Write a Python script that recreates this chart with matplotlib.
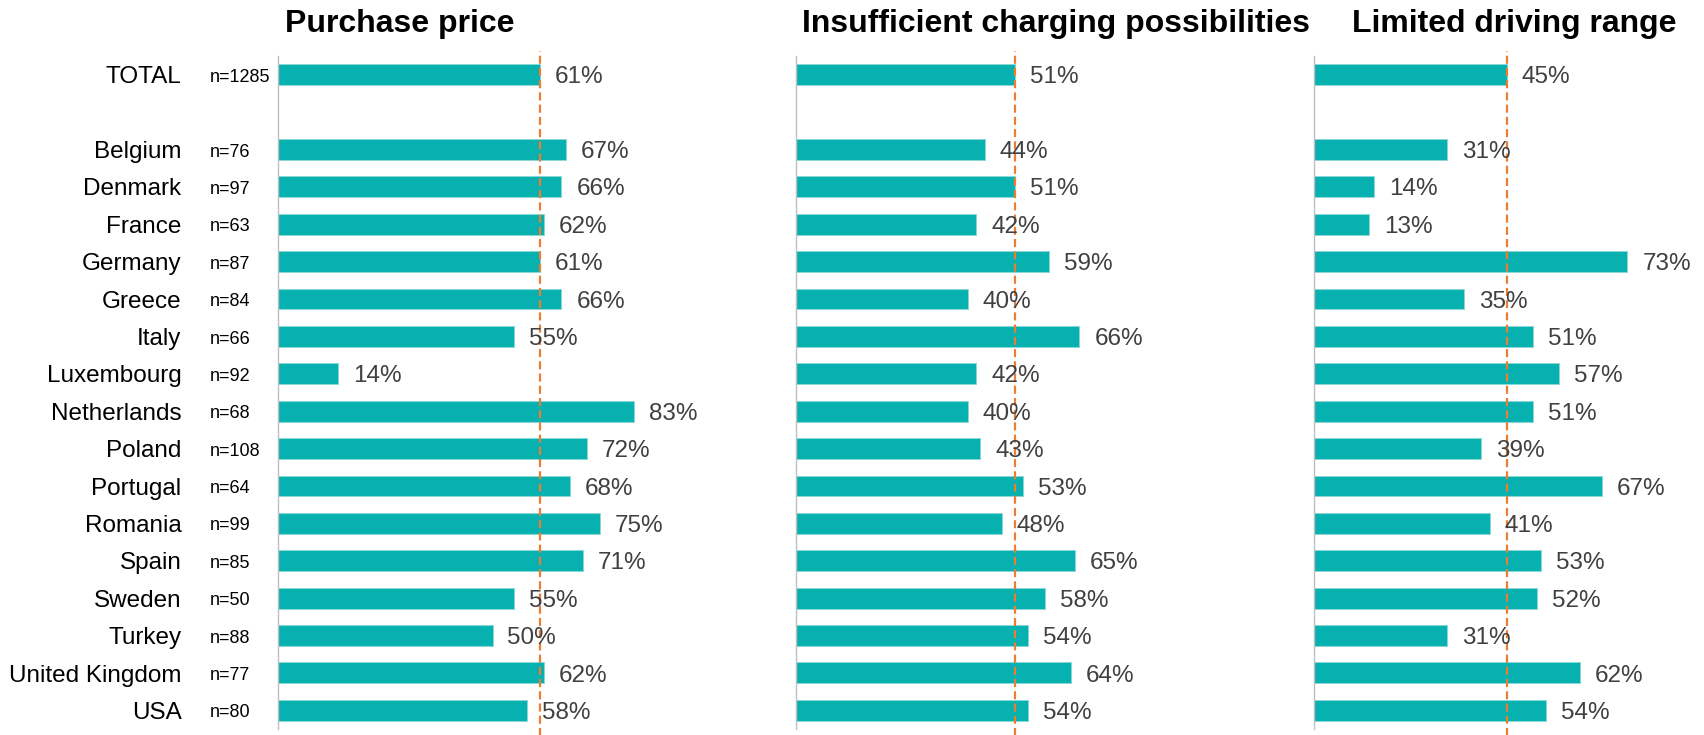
import matplotlib
matplotlib.use("Agg")
import matplotlib.pyplot as plt
from matplotlib.transforms import blended_transform_factory

plt.rcParams['font.family'] = ['Liberation Sans', 'DejaVu Sans']
plt.rcParams['lines.scale_dashes'] = False

categories = ["TOTAL", "Belgium", "Denmark", "France", "Germany", "Greece", "Italy",
              "Luxembourg", "Netherlands", "Poland", "Portugal", "Romania", "Spain",
              "Sweden", "Turkey", "United Kingdom", "USA"]
sample_sizes = [1285, 76, 97, 63, 87, 84, 66, 92, 68, 108, 64, 99, 85, 50, 88, 77, 80]
purchase_price = [61, 67, 66, 62, 61, 66, 55, 14, 83, 72, 68, 75, 71, 55, 50, 62, 58]
charging = [51, 44, 51, 42, 59, 40, 66, 42, 40, 43, 53, 48, 65, 58, 54, 64, 54]
driving_range = [45, 31, 14, 13, 73, 35, 51, 57, 51, 39, 67, 41, 53, 52, 31, 62, 54]
titles = ["Purchase price", "Insufficient charging possibilities", "Limited driving range"]
series = [purchase_price, charging, driving_range]

# row positions: TOTAL, one blank row, then countries
rows = [0] + list(range(2, 2 + len(categories) - 1))

W, H = 1704, 735
fig = plt.figure(figsize=(W / 100, H / 100), dpi=100)

bar_color = "#06B1AF"
dash_color = "#ED7D31"
px_per_pct = 4.3
xmax = 90
ax_w = xmax * px_per_pct
lefts = [277.5, 795.5, 1313.5]
ax_top_px, ax_bot_px = 56, 729
title_x = [400, 1056, 1514]
title_y = 24
ty = 0.07  # small downward nudge of row texts (in row units)

for k, (vals, title) in enumerate(zip(series, titles)):
    ax = fig.add_axes([lefts[k] / W, (H - ax_bot_px) / H, ax_w / W, (ax_bot_px - ax_top_px) / H])
    ax.barh(rows, vals, height=0.56, color=bar_color, edgecolor="#8AD9D8", linewidth=0.7, zorder=2)
    ax.set_xlim(0, xmax)
    ax.set_ylim(rows[-1] + 0.5, -0.5)
    for s in ["top", "right", "bottom"]:
        ax.spines[s].set_visible(False)
    ax.spines["left"].set_color("#BFBFBF")
    ax.spines["left"].set_linewidth(1.0)
    ax.set_xticks([])
    ax.set_yticks([])
    ax.patch.set_alpha(0)
    # reference line at the TOTAL value
    ax.axvline(vals[0], ymin=-0.011, ymax=1.0075, color=dash_color, linewidth=1.6,
               dashes=(5.8, 3.0), clip_on=False, zorder=3)
    off = 15 / px_per_pct
    for r, v in zip(rows, vals):
        ax.text(v + off, r + ty, f"{v}%", ha="left", va="center", fontsize=17.5,
                color="#404040", zorder=4)
    fig.text(title_x[k] / W, 1 - title_y / H, title, ha="center", va="center",
             fontsize=23, fontweight="bold", color="black")
    if k == 0:
        tr = blended_transform_factory(fig.transFigure, ax.transData)
        for r, c, n in zip(rows, categories, sample_sizes):
            ax.text(181.5 / W, r + ty, c, transform=tr, ha="right", va="center",
                    fontsize=17.5, color="black")
            ax.text(210 / W, r + ty, f"n={n}", transform=tr, ha="left", va="center",
                    fontsize=13, color="black")

fig.savefig("out.png", dpi=100, facecolor="white")
